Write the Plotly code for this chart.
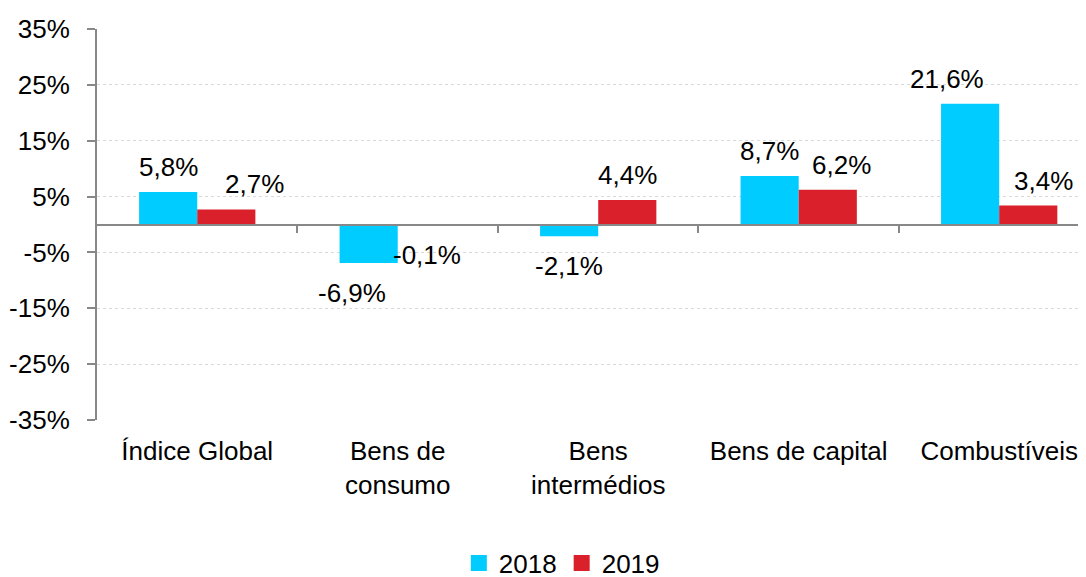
import plotly.graph_objects as go

categories = ["Índice Global", "Bens de<br>consumo", "Bens<br>intermédios", "Bens de capital", "Combustíveis"]
series_names = ["2018", "2019"]
values_2018 = [5.8, -6.9, -2.1, 8.7, 21.6]
values_2019 = [2.7, -0.1, 4.4, 6.2, 3.4]
labels_2018 = ["5,8%", "-6,9%", "-2,1%", "8,7%", "21,6%"]
labels_2019 = ["2,7%", "-0,1%", "4,4%", "6,2%", "3,4%"]
y_ticks = [-35, -25, -15, -5, 5, 15, 25, 35]
y_tick_labels = ["-35%", "-25%", "-15%", "-5%", "5%", "15%", "25%", "35%"]

# label nudges in pixels (styling, mimicking manually moved labels)
nudge_2018 = [0, -17, 0, 0, -23]
nudge_2019 = [28, 0, 0, 14, 15]

BLUE = "#00CCFF"
RED = "#DA202A"
FONT = "Liberation Sans, Arial, sans-serif"
FS = 26

x_idx = list(range(len(categories)))
half = 0.145

fig = go.Figure()
fig.add_trace(go.Bar(x=x_idx, y=values_2018, name=series_names[0], marker=dict(color=BLUE, line=dict(width=0)),
                     hoverinfo="skip", showlegend=False))
fig.add_trace(go.Bar(x=x_idx, y=values_2019, name=series_names[1], marker=dict(color=RED, line=dict(width=0)),
                     hoverinfo="skip", showlegend=False))
# legend-only entries with larger square swatches
for nm, col in zip(series_names, [BLUE, RED]):
    fig.add_trace(go.Scatter(x=[None], y=[None], mode="markers", name=nm,
                             marker=dict(symbol="square", size=16, color=col),
                             hoverinfo="skip"))
# dummy trace to activate the zero-line category axis
fig.add_trace(go.Scatter(x=[None], y=[None], xaxis="x2", showlegend=False, hoverinfo="skip"))

annotations = []
for vals, labs, nudges, off in [(values_2018, labels_2018, nudge_2018, -half),
                                (values_2019, labels_2019, nudge_2019, half)]:
    for i, (v, t, n) in enumerate(zip(vals, labs, nudges)):
        annotations.append(dict(
            x=i + off, y=v, xref="x", yref="y", text=t, showarrow=False,
            xanchor="center", yanchor="middle", xshift=n,
            yshift=25 if v >= 0 else -30,
            font=dict(family=FONT, size=FS, color="#000000")))

x_range = [-0.5, 4.433]
fig.update_layout(
    width=1086, height=577,
    margin=dict(l=89, r=8, t=21, b=165, autoexpand=False),
    paper_bgcolor="white", plot_bgcolor="white",
    barmode="group", bargap=0.42, bargroupgap=0,
    font=dict(family=FONT, size=FS, color="#000000"),
    showlegend=True,
    legend=dict(orientation="h", x=0.47, xanchor="center", y=-0.366, yanchor="middle",
                font=dict(family=FONT, size=FS, color="#000000"), itemwidth=30,
                traceorder="normal", tracegroupgap=0, itemsizing="trace"),
    annotations=annotations,
    xaxis=dict(range=x_range, tickmode="array", tickvals=x_idx, ticktext=categories,
               showgrid=False, zeroline=False, showline=False, ticks="",
               ticklabelstandoff=13, automargin=False,
               tickfont=dict(family=FONT, size=FS, color="#000000")),
    xaxis2=dict(range=x_range, overlaying="x", anchor="free", position=0.5,
                tickmode="array", tickvals=[0.5, 1.5, 2.5, 3.5],
                showticklabels=False, ticks="outside", ticklen=8, tickwidth=1.5,
                tickcolor="#888888", showgrid=False, zeroline=False,
                showline=True, linecolor="#888888", linewidth=1.5),
    yaxis=dict(range=[-35, 35], tickmode="array", tickvals=y_ticks, ticktext=y_tick_labels,
               showgrid=True, gridcolor="#D9D9D9", griddash="dot", gridwidth=1,
               zeroline=False, showline=True, linecolor="#888888", linewidth=2,
               ticks="outside", ticklen=8, tickcolor="#888888", tickwidth=1.5,
               ticklabelstandoff=12, automargin=False,
               tickfont=dict(family=FONT, size=FS, color="#000000")),
)

fig.write_html("out.html")
